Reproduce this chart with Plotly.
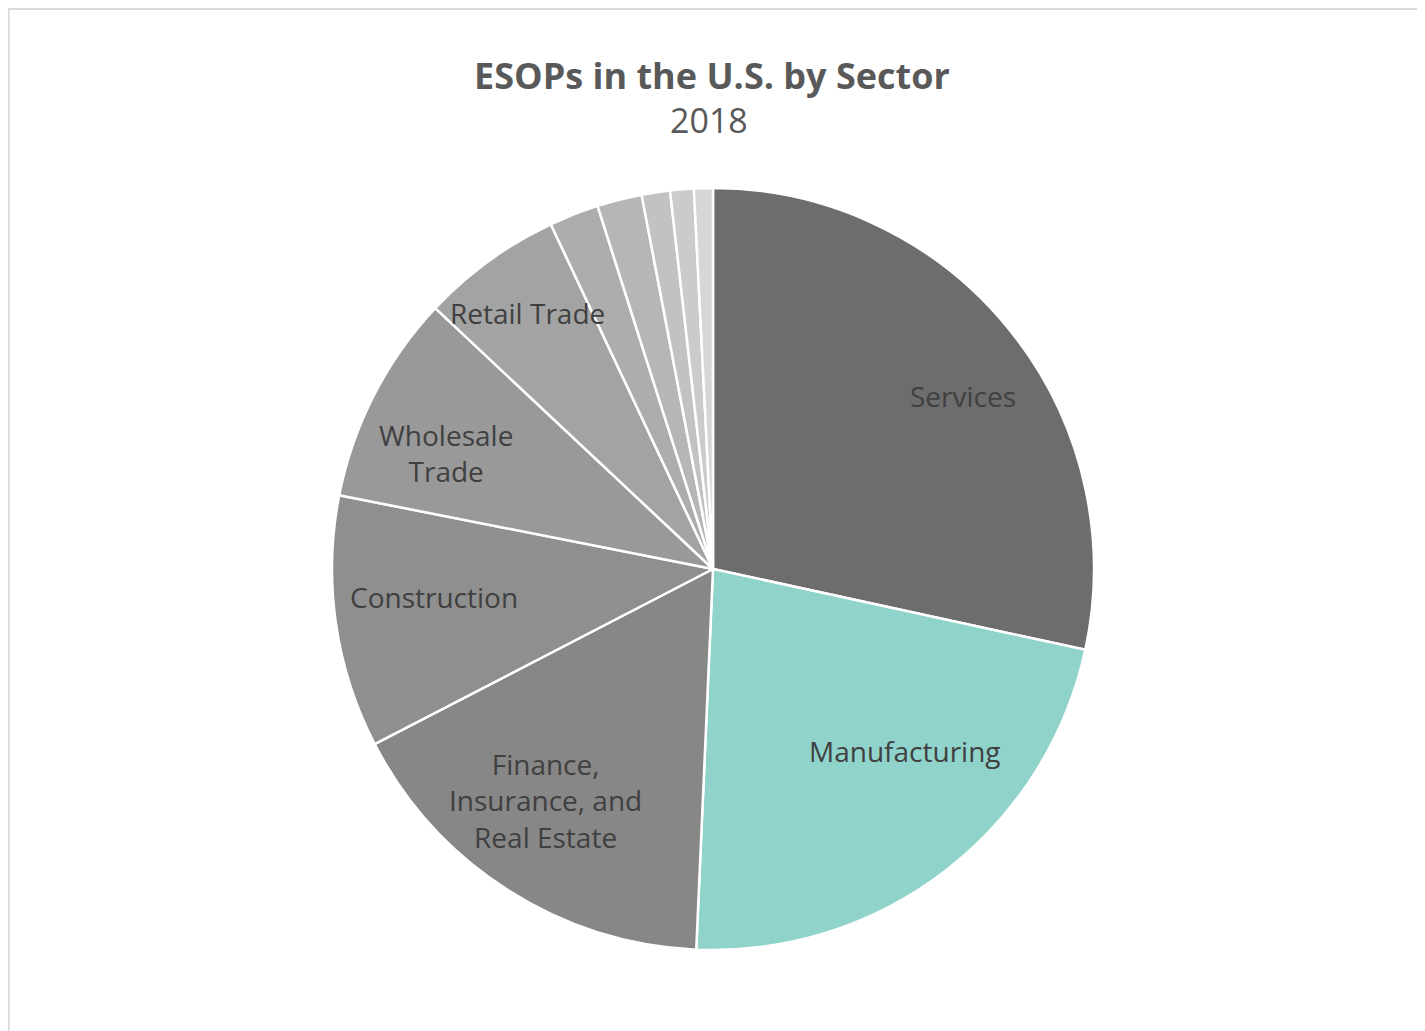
import plotly.graph_objects as go

# sector shares (percent)
sectors = ["Services", "Manufacturing", "Finance, Insurance, and Real Estate",
           "Construction", "Wholesale Trade", "Retail Trade",
           "Transportation", "Communications", "Agriculture", "Mining", "Other"]
shares = [28.4, 22.3, 16.7, 10.7, 8.9, 6.0, 2.1, 1.9, 1.2, 1.0, 0.8]
colors = ["#6d6d6d", "#8fd3cb", "#878787", "#8f8f8f", "#999999", "#a3a3a3",
          "#adadad", "#b6b6b6", "#c2c2c2", "#cbcbcb", "#d6d6d6"]

# labels drawn as text on the slices (small slices are unlabelled)
slice_labels = ["Services", "Manufacturing", "Finance,<br>Insurance, and<br>Real Estate",
                "Construction", "Wholesale<br>Trade", "Retail Trade"]
label_pos = [(963, 396), (905, 751), (545, 800), (434, 597), (446, 453), (527, 313)]

OFF = 8  # page body margin
W, H = 1425 - OFF, 1031 - OFF
cx, cy, r = 713 - OFF, 569 - OFF, 381


def px(x):
    return (x - OFF) / W


def py(y):
    return 1 - (y - OFF) / H


fig = go.Figure(go.Pie(
    labels=sectors, values=shares, sort=False, direction="clockwise", rotation=0,
    marker=dict(colors=colors, line=dict(color="white", width=2.5)),
    textinfo="none", hoverinfo="label+percent", showlegend=False,
    domain=dict(x=[(cx - r) / W, (cx + r) / W], y=[(H - cy - r) / H, (H - cy + r) / H]),
))

for txt, (lx, ly) in zip(slice_labels, label_pos):
    fig.add_annotation(x=px(lx), y=py(ly), xref="paper", yref="paper",
                       xanchor="center", yanchor="middle",
                       text=txt, showarrow=False,
                       font=dict(family="Open Sans", size=28, color="#404040"))

fig.add_annotation(x=px(712), y=py(76), xref="paper", yref="paper", showarrow=False,
                   xanchor="center", yanchor="middle",
                   text="<b>ESOPs in the U.S. by Sector</b>",
                   font=dict(family="Open Sans", size=36, color="#595959"))
fig.add_annotation(x=px(709), y=py(120), xref="paper", yref="paper", showarrow=False,
                   xanchor="center", yanchor="middle",
                   text="2018", font=dict(family="Open Sans", size=34, color="#595959"))

# thin frame round the chart
fig.add_shape(type="rect", xref="paper", yref="paper", x0=0.0005, x1=0.9985, y0=-0.01, y1=0.999,
              line=dict(color="#d9d9d9", width=2))

fig.update_layout(width=W, height=H, margin=dict(l=0, r=0, t=0, b=0),
                  paper_bgcolor="white", plot_bgcolor="white")
fig.write_html("out.html")
